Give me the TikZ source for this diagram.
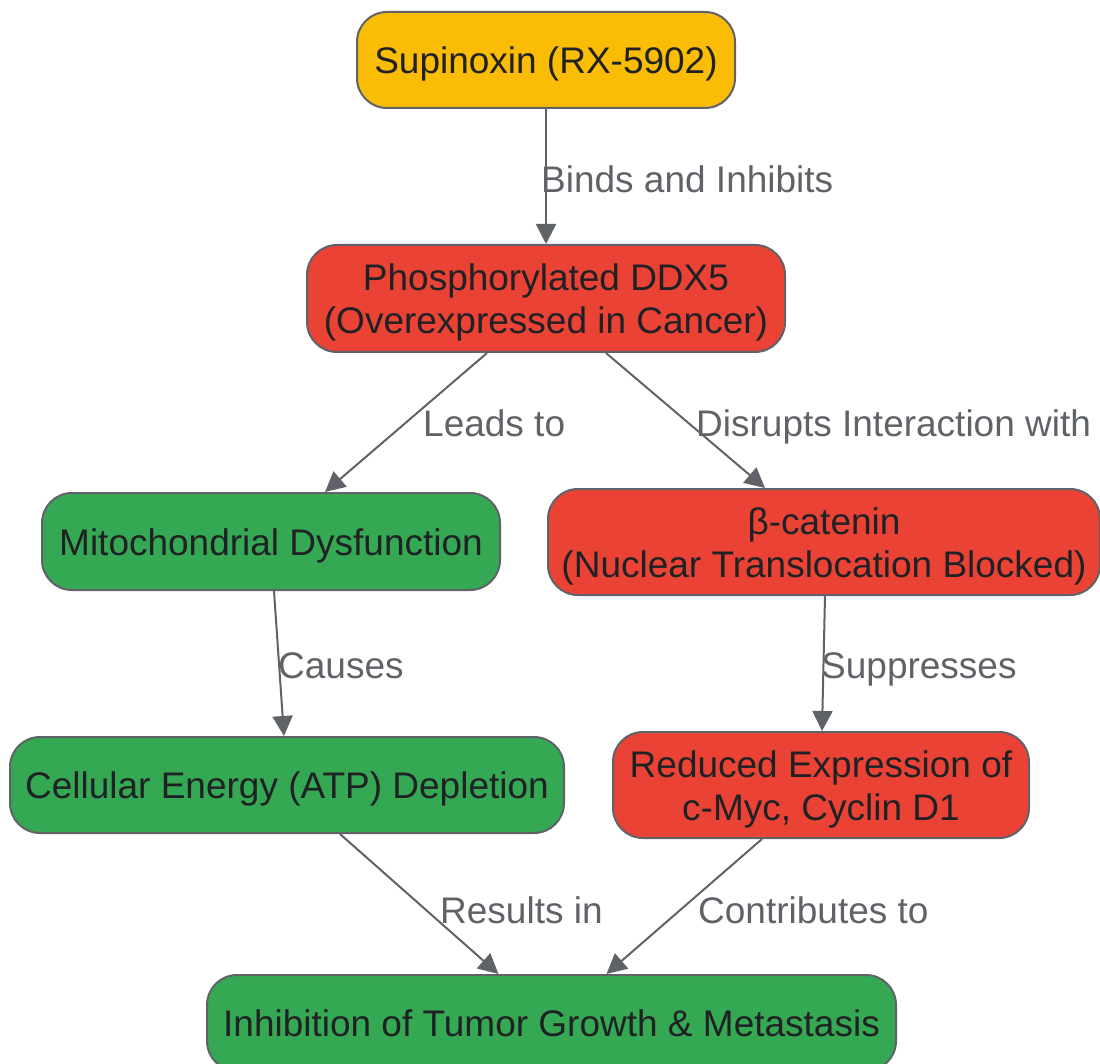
\documentclass[tikz,border=0pt]{standalone}
\usepackage{fontspec}
\setmainfont{Liberation Sans}
\usetikzlibrary{arrows.meta}
\definecolor{cyellow}{HTML}{FBBC05}
\definecolor{cred}{HTML}{EA4335}
\definecolor{cgreen}{HTML}{34A853}
\definecolor{cline}{HTML}{5F6368}
\definecolor{ctext}{HTML}{202124}
\newcommand\nodetxt[1]{\raisebox{-5pt}[\height][\depth]{\begin{tabular}{@{}c@{}}#1\end{tabular}}}
\tikzset{
  box/.style={draw=cline, line width=2pt, rounded corners=30pt, inner sep=0pt,
    text=ctext, font=\fontsize{37}{43}\selectfont},
  conn/.style={draw=cline, line width=2pt, -{Triangle[length=20pt,width=20pt]}},
  lbl/.style={anchor=base west, inner sep=0pt, text=cline, font=\fontsize{37}{43}\selectfont}
}
\begin{document}
\begin{tikzpicture}[x=1pt,y=-1pt]
\useasboundingbox (0,0) rectangle (1100,1064);
\node[box, fill=cyellow, minimum width=378pt, minimum height=96pt] (sup) at (546,60) {\nodetxt{Supinoxin (RX-5902)}};
\node[box, fill=cred, minimum width=478pt, minimum height=107pt] (ddx) at (546,298.5) {\nodetxt{Phosphorylated DDX5\\(Overexpressed in Cancer)}};
\node[box, fill=cgreen, minimum width=458pt, minimum height=97pt] (mito) at (271,541.5) {\nodetxt{Mitochondrial Dysfunction}};
\node[box, fill=cred, minimum width=552pt, minimum height=106pt] (beta) at (824,542) {\nodetxt{β-catenin\\(Nuclear Translocation Blocked)}};
\node[box, fill=cgreen, minimum width=554pt, minimum height=96pt] (atp) at (287,785) {\nodetxt{Cellular Energy (ATP) Depletion}};
\node[box, fill=cred, minimum width=416pt, minimum height=106pt] (red) at (821,785) {\nodetxt{Reduced Expression of\\c-Myc, Cyclin D1}};
\node[box, fill=cgreen, minimum width=689pt, minimum height=96pt] (inh) at (551.5,1023) {\nodetxt{Inhibition of Tumor Growth \& Metastasis}};

\draw[conn] (sup.south) -- (ddx.north);
\draw[conn] ([xshift=-59pt]ddx.south) -- ([xshift=54pt]mito.north);
\draw[conn] ([xshift=60pt]ddx.south) -- ([xshift=-59pt]beta.north);
\draw[conn] ([xshift=3pt]mito.south) -- ([xshift=-3pt]atp.north);
\draw[conn] ([xshift=1pt]beta.south) -- ([xshift=1pt]red.north);
\draw[conn] ([xshift=53pt]atp.south) -- ([xshift=-53pt]inh.north);
\draw[conn] ([xshift=-59pt]red.south) -- ([xshift=55pt]inh.north);

\node[lbl] (l1) at (541,193) {Binds and Inhibits};
\node[lbl] (l2) at (423,436) {Leads to};
\node[lbl] (l3) at (696,436) {Disrupts Interaction with};
\node[lbl] (l4) at (278,678) {Causes};
\node[lbl] (l5) at (821,678) {Suppresses};
\node[lbl] (l6) at (440,923) {Results in};
\node[lbl] (l7) at (698,923) {Contributes to};
\end{tikzpicture}
\end{document}
